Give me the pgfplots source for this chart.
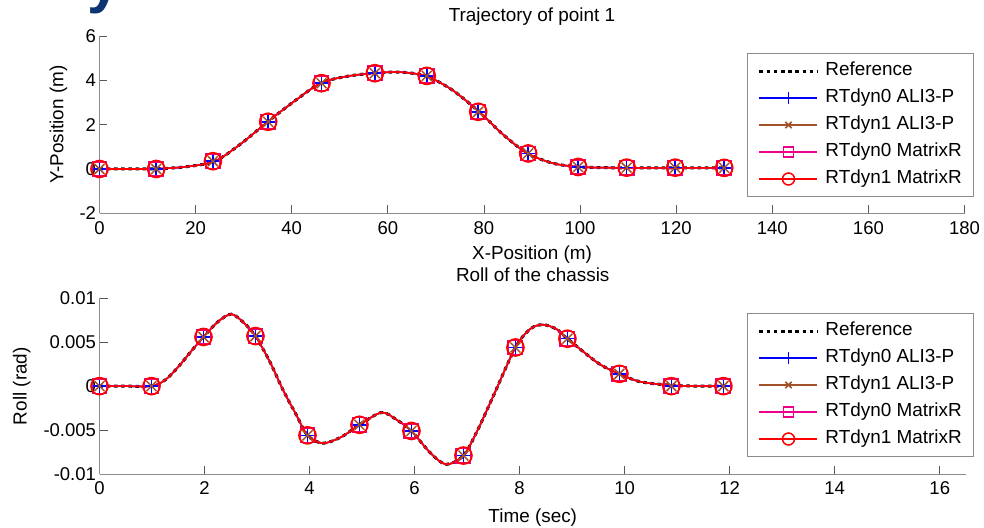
\documentclass[border=0pt]{standalone}
\usepackage{pgfplots}
\usepackage{pgfplotstable}
\pgfplotsset{compat=1.18}
\usepackage{fontspec}
\setmainfont{Liberation Sans}
\definecolor{mbrown}{rgb}{0.63,0.32,0.16}
\definecolor{axgray}{gray}{0.55}
\definecolor{slideblue}{rgb}{0.05,0.2,0.45}
\newcommand{\fs}{\fontsize{18.5}{22}\selectfont}
\newcommand{\fl}{\fontsize{18.9}{22}\selectfont}

\pgfplotstableread{
x y
0 0
6 0
12 0.01
18 0.1
24 0.35
29.5 1.15
35 2.13
40.5 3.05
46 3.87
51.5 4.18
57 4.32
62.5 4.37
68 4.19
73.5 3.55
79 2.58
84 1.55
89 0.71
94.5 0.25
100 0.09
105 0.06
110 0.05
120 0.05
130 0.05
}\trajline

\pgfplotstableread{
x y
0 0
11.8 0
23.6 0.35
35.1 2.13
46.2 3.87
57.3 4.32
68.1 4.2
78.8 2.58
89.2 0.70
99.6 0.09
109.7 0.06
119.8 0.06
130 0.05
}\trajmarks

\pgfplotstableread{
x y
0 0
0.5 0
0.99 0
1.25 0.0007
1.5 0.0022
1.75 0.0040
1.98 0.0056
2.25 0.0073
2.51 0.0082
2.75 0.0072
2.97 0.0057
3.25 0.0027
3.5 -0.0005
3.75 -0.0033
3.96 -0.0056
4.25 -0.0065
4.6 -0.0058
4.95 -0.0044
5.37 -0.0030
5.65 -0.0038
5.94 -0.0051
6.3 -0.0076
6.6 -0.0089
6.93 -0.0079
7.2 -0.0050
7.5 -0.0011
7.92 0.0044
8.2 0.0065
8.44 0.0070
8.7 0.0065
8.91 0.0054
9.5 0.0026
9.9 0.0014
10.3 0.0005
10.89 0.0001
11.4 0
11.88 0
}\rollline

\pgfplotstableread{
x y
0 0
0.99 0
1.98 0.0056
2.97 0.0057
3.96 -0.0056
4.95 -0.0044
5.94 -0.0051
6.93 -0.0079
7.92 0.0044
8.91 0.0054
9.9 0.0014
10.89 0
11.88 0
}\rollmarks

\pgfplotsset{
  mystyle/.style={
    scale only axis,
    axis lines=left,
    axis line style={-, draw=axgray, line width=0.9pt},
    tick align=inside,
    major tick length=8pt,
    tick style={draw=black!65, line width=0.8pt},
    tick label style={font=\fs, text=black},
    xticklabel style={yshift=-4.5pt},
    scaled ticks=false,
    label style={font=\fl, inner sep=0pt},
    title style={font=\fl, inner sep=0pt},
    every axis title shift=0pt,
    clip=false,
    legend cell align=left,
    legend image code/.code={\draw[mark repeat=2,mark phase=2,##1] plot coordinates {(0pt,0pt) (29pt,0pt) (58pt,0pt)};},
    legend style={font=\fl, draw=axgray, line width=0.9pt, fill=white,
      inner xsep=10.5pt, inner ysep=7pt, row sep=6.5pt, column sep=5pt,
      nodes={inner sep=1.5pt, text height=13.5pt, text depth=4pt}},
  },
  refl/.style={black, line width=3pt, dash pattern=on 3.6pt off 3.6pt, smooth},
  bl/.style={blue, line width=1.5pt, smooth},
  br/.style={mbrown, line width=1.5pt, smooth},
  mg/.style={magenta, line width=1.5pt, smooth},
  rd/.style={red, line width=1.6pt, smooth},
}

\newcommand{\drawseries}[2]{%
  \addplot[refl, forget plot] table {#1};
  \addplot[bl, forget plot] table {#1};
  \addplot[blue, only marks, mark=+, mark size=8pt, mark options={line width=1.5pt}, forget plot] table {#2};
  \addplot[br, forget plot] table {#1};
  \addplot[mbrown, only marks, mark=x, mark size=7pt, mark options={line width=1.5pt}, forget plot] table {#2};
  \addplot[mg, forget plot] table {#1};
  \addplot[magenta, only marks, mark=square, mark size=7.2pt, mark options={line width=1.5pt}, forget plot] table {#2};
  \addplot[rd, forget plot] table {#1};
  \addplot[red, only marks, mark=o, mark size=8.5pt, mark options={line width=1.7pt}, forget plot] table {#2};
  \addlegendimage{black, line width=3pt, dash pattern=on 3.6pt off 3.6pt}
  \addlegendentry{Reference}
  \addlegendimage{blue, line width=1.5pt, mark=+, mark size=6pt}
  \addlegendentry{RTdyn0 ALI3-P}
  \addlegendimage{mbrown, line width=1.5pt, mark=x, mark size=4.5pt}
  \addlegendentry{RTdyn1 ALI3-P}
  \addlegendimage{magenta, line width=1.5pt, mark=square, mark size=5pt}
  \addlegendentry{RTdyn0 MatrixR}
  \addlegendimage{red, line width=1.5pt, mark=o, mark size=6pt}
  \addlegendentry{RTdyn1 MatrixR}
}

\begin{document}
\begin{tikzpicture}
\useasboundingbox (0,0) rectangle (984pt,527pt);
\node[anchor=base, inner sep=0pt, text=slideblue, font=\fontsize{60}{60}\selectfont\bfseries] at (104pt,525pt) {y};

\begin{axis}[mystyle,
  at={(99.5pt,313.7pt)}, anchor=south west, width=865pt, height=177.3pt,
  xmin=0, xmax=180, ymin=-2, ymax=6,
  xtick={0,20,...,180}, xticklabels={0,20,40,60,80,100,120,140,160,180},
  ytick={-2,0,2,4,6}, yticklabels={-2,0,2,4,6},
  title={Trajectory of point 1}, xlabel={X-Position (m)}, ylabel={Y-Position (m)},
  title style={at={(axis description cs:0.5,1.0807)}, anchor=base},
  xlabel style={at={(axis description cs:0.5,-0.2594)}, anchor=base},
  ylabel style={at={(axis description cs:-0.04185,0.5)}, anchor=base},
  legend style={at={(0.7486,0.9024)}, anchor=north west},
]
\drawseries{\trajline}{\trajmarks}
\end{axis}

\begin{axis}[mystyle,
  at={(99.5pt,53pt)}, anchor=south west, width=866.5pt, height=175.7pt,
  xmin=0, xmax=16.5, ymin=-0.01, ymax=0.01,
  xtick={0,2,...,16}, xticklabels={0,2,4,6,8,10,12,14,16},
  ytick={-0.01,-0.005,0,0.005,0.01}, yticklabels={-0.01,-0.005,0,0.005,0.01},
  title={Roll of the chassis}, xlabel={Time (sec)}, ylabel={Roll (rad)},
  title style={at={(axis description cs:0.5,1.0968)}, anchor=base},
  xlabel style={at={(axis description cs:0.5,-0.2772)}, anchor=base},
  ylabel style={at={(axis description cs:-0.0841,0.5)}, anchor=base},
  legend style={at={(0.7473,0.9146)}, anchor=north west},
]
\drawseries{\rollline}{\rollmarks}
\end{axis}
\end{tikzpicture}
\end{document}
